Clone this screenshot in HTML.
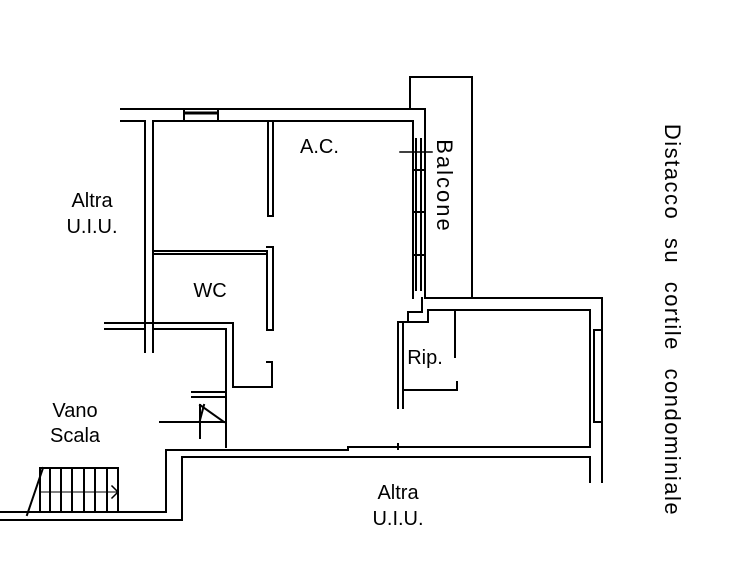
<!DOCTYPE html>
<html><head><meta charset="utf-8"><style>
html,body{margin:0;padding:0;background:#fff;width:731px;height:561px;overflow:hidden}
svg{display:block}
text{font-family:"Liberation Sans",sans-serif;font-size:20px;fill:#000}
</style></head><body>
<svg width="731" height="561" viewBox="0 0 731 561" xmlns="http://www.w3.org/2000/svg">
<g stroke="#000" stroke-width="2" fill="none" stroke-linecap="square">
<line x1="121" y1="109" x2="425" y2="109"/>
<line x1="121" y1="121" x2="145" y2="121"/>
<line x1="153" y1="121" x2="413" y2="121"/>
<rect x="184" y="109" width="34" height="12"/>
<line x1="185" y1="113" x2="217" y2="113" stroke-width="3"/>
<line x1="145" y1="121" x2="145" y2="352"/>
<line x1="153" y1="121" x2="153" y2="352"/>
<path d="M268 121 V216 H273 V121"/>
<line x1="153" y1="251" x2="267" y2="251"/>
<line x1="153" y1="254" x2="267" y2="254"/>
<path d="M267 251 V330 H273 V247 H267"/>
<line x1="105" y1="323" x2="232" y2="323"/>
<line x1="105" y1="329" x2="145" y2="329"/>
<line x1="153" y1="329" x2="226" y2="329"/>
<line x1="226" y1="329" x2="226" y2="447"/>
<line x1="233" y1="323" x2="233" y2="387"/>
<path d="M233 387 H272 V362 H267"/>
<line x1="192" y1="392" x2="226" y2="392"/>
<line x1="192" y1="397" x2="226" y2="397"/>
<line x1="160" y1="422" x2="224" y2="422"/>
<line x1="200" y1="405" x2="200" y2="438"/>
<line x1="200" y1="405" x2="224" y2="422"/>
<line x1="204" y1="405" x2="200" y2="420"/>
<path d="M166 512 V450 H348 V447 H590 V310 H428 V322"/>
<line x1="398" y1="444" x2="398" y2="449"/>
<path d="M0 512 H166"/>
<path d="M0 520 H182 V457 H590 V482"/>
<line x1="602" y1="298" x2="602" y2="482"/>
<rect x="594" y="330" width="8" height="92"/>
<line x1="413" y1="121" x2="413" y2="298"/>
<line x1="425" y1="109" x2="425" y2="298"/>
<line x1="416" y1="139" x2="416" y2="290"/>
<line x1="421" y1="139" x2="421" y2="290"/>
<line x1="413" y1="170" x2="425" y2="170"/>
<line x1="413" y1="212" x2="425" y2="212"/>
<line x1="413" y1="255" x2="425" y2="255"/>
<line x1="400" y1="152" x2="432" y2="152" stroke-width="1.5"/>
<path d="M410 109 V77 H472 V298"/>
<line x1="425" y1="298" x2="602" y2="298"/>
<path d="M422 298 V312 H408 V322 H398 V408"/>
<path d="M428 310 V322 H403 V408"/>
<path d="M455 310 V357"/>
<path d="M403 390 H457 V382"/>
<rect x="40" y="468" width="78" height="44"/>
<line x1="27" y1="515" x2="43" y2="468"/>
<line x1="50" y1="468" x2="50" y2="512"/>
<line x1="61" y1="468" x2="61" y2="512"/>
<line x1="72" y1="468" x2="72" y2="512"/>
<line x1="84" y1="468" x2="84" y2="512"/>
<line x1="95" y1="468" x2="95" y2="512"/>
<line x1="107" y1="468" x2="107" y2="512"/>
<line x1="40" y1="492" x2="118" y2="492" stroke-width="1"/>
<path d="M112 486 L118 492 L112 498" stroke-width="1.5"/>
</g>
<text x="300" y="153">A.C.</text>
<text x="92" y="207" text-anchor="middle">Altra</text>
<text x="92" y="233" text-anchor="middle">U.I.U.</text>
<text x="210" y="297" text-anchor="middle">WC</text>
<text x="425" y="364" text-anchor="middle">Rip.</text>
<text x="75" y="417" text-anchor="middle">Vano</text>
<text x="75" y="442" text-anchor="middle">Scala</text>
<text x="398" y="499" text-anchor="middle">Altra</text>
<text x="398" y="525" text-anchor="middle">U.I.U.</text>
<text transform="translate(437,186) rotate(90)" text-anchor="middle" style="font-size:22px;letter-spacing:2px">Balcone</text>
<text transform="translate(665,320) rotate(90)" text-anchor="middle" style="font-size:22px;word-spacing:10px;letter-spacing:1.5px">Distacco su cortile condominiale</text>
</svg>
</body></html>
